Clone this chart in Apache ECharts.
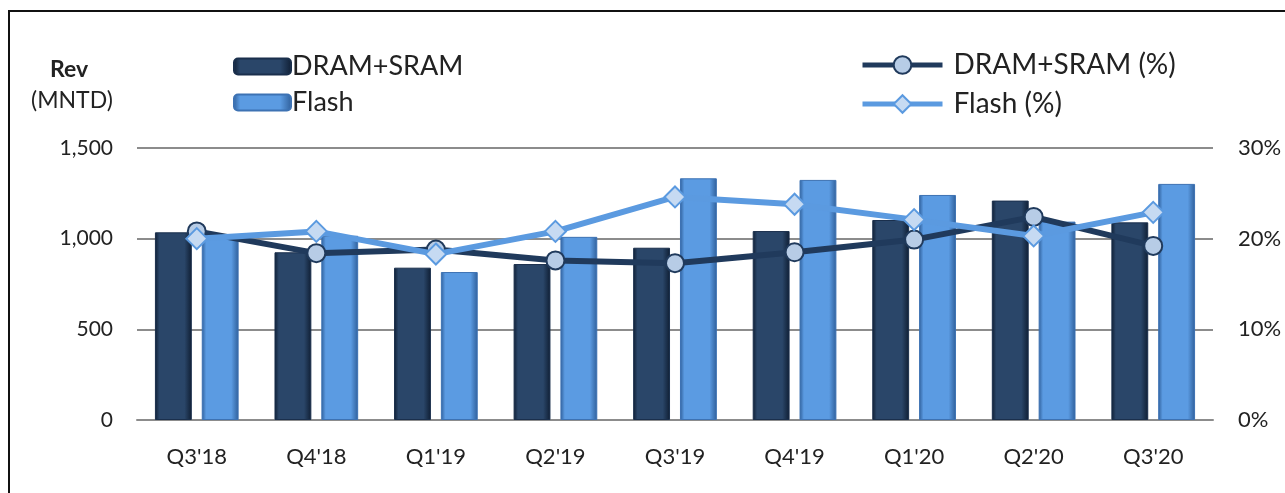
<!DOCTYPE html>
<html>
<head>
<meta charset="utf-8">
<script src="https://cdn.jsdelivr.net/npm/echarts@6/dist/echarts.min.js"></script>
<style>
  html, body { margin: 0; padding: 0; background: #fff; }
  #chart { width: 1285px; height: 493px; }
</style>
</head>
<body>
<div id="chart"></div>
<script>
  // quarters and values
  var quarters = ["Q3'18", "Q4'18", "Q1'19", "Q2'19", "Q3'19", "Q4'19", "Q1'20", "Q2'20", "Q3'20"];
  var dramRev = [1035, 925, 840, 860, 950, 1042, 1103, 1210, 1090];
  var flashRev = [1008, 1016, 816, 1010, 1333, 1324, 1241, 1094, 1302];
  var dramPct = [20.8, 18.4, 18.8, 17.6, 17.3, 18.5, 19.9, 22.4, 19.2];
  var flashPct = [20.0, 20.8, 18.3, 20.8, 24.6, 23.8, 22.1, 20.3, 22.9];
  var revTicks = [0, 500, 1000, 1500];
  var pctTicks = [0, 10, 20, 30];

  var font = "Lato, 'Open Sans', sans-serif";
  var dark = "#203a5c";
  var light = "#5b9ae0";

  // bevelled look of the bars
  var barFill = function (edge, mid) {
    return new echarts.graphic.LinearGradient(0, 0, 1, 0, [
      {offset: 0, color: edge},
      {offset: 0.12, color: mid},
      {offset: 0.8, color: mid},
      {offset: 1, color: edge}
    ]);
  };

  var chart = echarts.init(document.getElementById("chart"), null, {renderer: "canvas"});

  var option = {
    animation: false,
    textStyle: {fontFamily: font},
    grid: {left: 137, right: 72, top: 148, bottom: 73, outerBoundsMode: "none"},
    graphic: [
      {
        type: "rect",
        shape: {x: 9, y: 11, width: 1300, height: 500},
        style: {fill: "none", stroke: "#111", lineWidth: 2},
        silent: true
      },
      {
        type: "text",
        left: 50, top: 58,
        style: {text: "Rev", font: "bold 23px " + font, fill: "#222"}
      },
      {
        type: "text",
        left: 31, top: 89,
        style: {text: "(MNTD)", font: "23px " + font, fill: "#222"}
      }
    ],
    legend: [
      {
        data: ["DRAM+SRAM", "Flash"],
        orient: "vertical",
        left: 228, top: 48,
        itemWidth: 57, itemHeight: 16, itemGap: 9,
        textStyle: {fontSize: 27, color: "#222", fontFamily: font, padding: [0, 0, 0, -4]}
      },
      {
        data: ["DRAM+SRAM (%)", "Flash (%)"],
        orient: "vertical",
        left: 855, top: 46,
        itemWidth: 80, itemHeight: 22, itemGap: 11,
        lineStyle: {width: 5},
        textStyle: {fontSize: 28, color: "#222", fontFamily: font, padding: [0, 0, 0, 6]}
      }
    ],
    xAxis: {
      type: "category",
      data: quarters,
      axisLine: {lineStyle: {color: "#8c8c8c", width: 2}},
      axisTick: {show: false},
      axisLabel: {fontSize: 22, color: "#222", margin: 26, fontFamily: font}
    },
    yAxis: [
      {
        type: "value",
        min: revTicks[0], max: revTicks[revTicks.length - 1], interval: 500,
        axisLine: {show: false},
        axisTick: {show: false},
        splitLine: {lineStyle: {color: "#8c8c8c", width: 2}},
        axisLabel: {
          fontSize: 21, color: "#222", margin: 24, fontFamily: font,
          formatter: function (v) { return v.toLocaleString("en-US"); }
        }
      },
      {
        type: "value",
        min: pctTicks[0], max: pctTicks[pctTicks.length - 1], interval: 10,
        axisLine: {show: false},
        axisTick: {show: false},
        splitLine: {show: false},
        axisLabel: {fontSize: 22, color: "#222", margin: 25, fontFamily: font, formatter: "{value}%"}
      }
    ],
    series: [
      {
        name: "DRAM+SRAM",
        type: "bar",
        data: dramRev,
        barGap: "27%",
        barCategoryGap: "30%",
        itemStyle: {color: barFill("#0f1e33", "#2a4669"), borderColor: "#1a2f4c", borderWidth: 1}
      },
      {
        name: "Flash",
        type: "bar",
        data: flashRev,
        itemStyle: {color: barFill("#2f5f9a", "#5b9be2"), borderColor: "#3d72b3", borderWidth: 1}
      },
      {
        name: "DRAM+SRAM (%)",
        type: "line",
        yAxisIndex: 1,
        data: dramPct,
        symbol: "circle",
        symbolSize: 18,
        lineStyle: {color: dark, width: 6},
        itemStyle: {color: "#b7cce6", borderColor: dark, borderWidth: 2},
        z: 3
      },
      {
        name: "Flash (%)",
        type: "line",
        yAxisIndex: 1,
        data: flashPct,
        symbol: "diamond",
        symbolSize: [21, 21],
        lineStyle: {color: light, width: 6},
        itemStyle: {color: "#c6daf2", borderColor: light, borderWidth: 2},
        z: 4
      }
    ]
  };

  chart.setOption(option);
</script>
</body>
</html>
